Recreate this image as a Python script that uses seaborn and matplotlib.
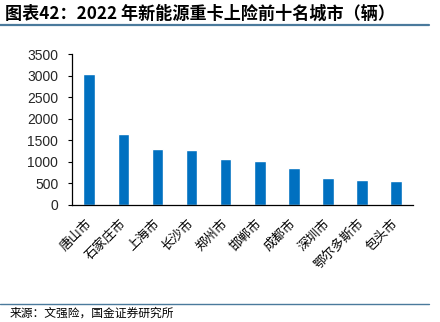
import matplotlib
matplotlib.use("Agg")
import matplotlib.pyplot as plt
import seaborn as sns
import pandas as pd

cities = ["唐山市", "石家庄市", "上海市", "长沙市", "郑州市",
          "邯郸市", "成都市", "深圳市", "鄂尔多斯市", "包头市"]
vehicles = [3040, 1645, 1300, 1280, 1055, 1025, 855, 630, 575, 545]
y_ticks = [0, 500, 1000, 1500, 2000, 2500, 3000, 3500]

title = "图表42：2022 年新能源重卡上险前十名城市（辆）"
source = "来源：文强险，国金证券研究所"

sns.set_theme(style="white")
plt.rcParams["font.family"] = ["Noto Sans CJK SC", "DejaVu Sans"]

df = pd.DataFrame({"city": cities, "count": vehicles})

fig = plt.figure(figsize=(4.4, 3.22), dpi=100)
ax = fig.add_axes([0.164, 0.364, 0.775, 0.467])

sns.barplot(data=df, x="city", y="count", color="#0070C0", saturation=1,
            width=0.34, ax=ax)

ax.set_ylim(0, 3500)
ax.set_yticks(y_ticks)
ax.set_yticklabels([str(v) for v in y_ticks], fontfamily="Liberation Sans",
                   fontsize=10)
ax.set_xlabel("")
ax.set_ylabel("")
ax.set_xlim(-0.5, len(cities) - 0.5)

for lbl in ax.get_xticklabels():
    lbl.set_rotation(45)
    lbl.set_ha("right")
    lbl.set_va("center")
    lbl.set_rotation_mode("anchor")
    lbl.set_fontsize(9.3)
    lbl.set_color("black")

for side in ["top", "right"]:
    ax.spines[side].set_visible(False)
for side in ["left", "bottom"]:
    ax.spines[side].set_color("black")
    ax.spines[side].set_linewidth(0.9)
ax.tick_params(axis="y", which="major", left=True, length=3, width=0.8,
               color="black", pad=7)
ax.tick_params(axis="x", bottom=False, pad=6)

fig.text(0.012, 0.958, title, fontsize=12.3, fontweight="bold",
         fontstyle="italic", ha="left", va="center", color="black")
fig.add_artist(plt.Line2D([0, 0.975], [0.922, 0.922], color="#4a7a9c",
                          linewidth=1.6, transform=fig.transFigure))
fig.add_artist(plt.Line2D([0, 0.975], [0.056, 0.056], color="#4a7a9c",
                          linewidth=1.0, transform=fig.transFigure))
fig.text(0.023, 0.028, source, fontsize=8.5, ha="left", va="center",
         color="black")

fig.savefig("out.png", dpi=100)
